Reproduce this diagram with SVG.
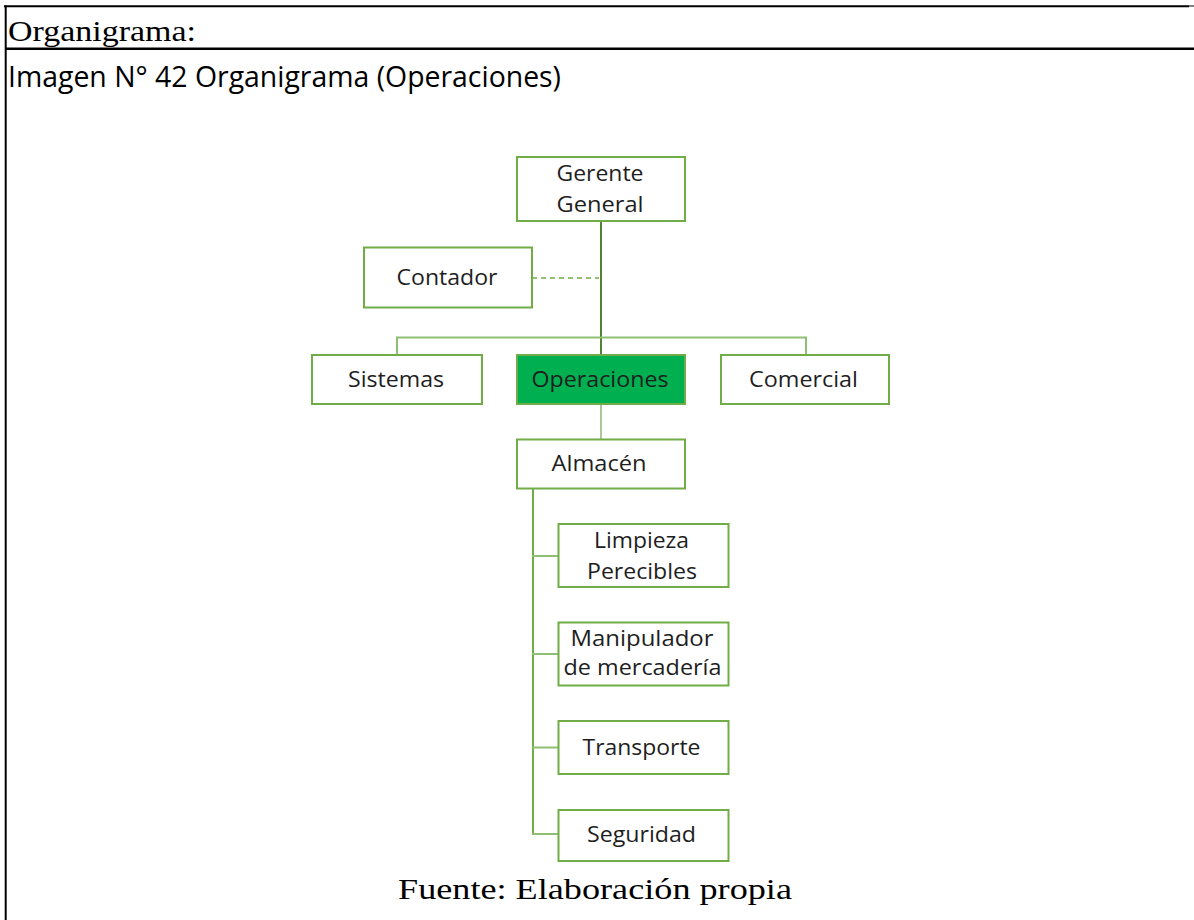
<svg xmlns="http://www.w3.org/2000/svg" width="1194" height="920" viewBox="0 0 1194 920">
<style>
.box{fill:#ffffff;stroke:#70ad47;stroke-width:2}
.hl{fill:#00b050;stroke:#70ad47;stroke-width:2}
.lbl{font-family:"Open Sans","Liberation Sans",sans-serif;font-size:21.5px;fill:#1e1e1e;text-anchor:middle}
.serif{font-family:"Liberation Serif","Times New Roman",serif;font-size:30px;fill:#000}
.frame{stroke:#000;fill:none}
</style>
<rect width="1194" height="920" fill="#ffffff"/>
<g id="frame">
<line class="frame" x1="4" y1="6.3" x2="1189" y2="6.3" stroke-width="2"/>
<line class="frame" x1="1189" y1="6" x2="1194" y2="6" stroke-width="1"/>
<line class="frame" x1="5" y1="48.8" x2="1194" y2="48.8" stroke-width="2.4"/>
<line class="frame" x1="5.7" y1="5.5" x2="5.7" y2="920" stroke-width="2"/>
<text class="serif" x="8" y="41" textLength="188" lengthAdjust="spacingAndGlyphs">Organigrama:</text>
<text x="8" y="87" font-family="'Open Sans','Liberation Sans',sans-serif" font-size="29" fill="#000" textLength="553" lengthAdjust="spacingAndGlyphs">Imagen N° 42 Organigrama (Operaciones)</text>
<text class="serif" x="398" y="899" textLength="394" lengthAdjust="spacingAndGlyphs">Fuente: Elaboración propia</text>
</g>
<g id="connectors" fill="none">
<line x1="601" y1="221" x2="601" y2="355" stroke="#548235" stroke-width="2"/>
<polyline points="397,355 397,337.5 806,337.5 806,355" stroke="#8fbf73" stroke-width="2"/>
<line x1="532" y1="278" x2="599" y2="278" stroke="#70ad47" stroke-width="1.5" stroke-dasharray="5,4"/>
<line x1="601" y1="404" x2="601" y2="439" stroke="#a9c79a" stroke-width="2"/>
<line x1="533" y1="488" x2="533" y2="835" stroke="#70ad47" stroke-width="2"/>
<line x1="532" y1="556" x2="558" y2="556" stroke="#8fbf73" stroke-width="2"/>
<line x1="532" y1="654" x2="558" y2="654" stroke="#8fbf73" stroke-width="2"/>
<line x1="532" y1="747.5" x2="558" y2="747.5" stroke="#8fbf73" stroke-width="2"/>
<line x1="532" y1="834" x2="558" y2="834" stroke="#8fbf73" stroke-width="2"/>
</g>
<g id="gerente">
<rect class="box" x="517" y="157" width="168" height="64"/>
<text class="lbl" x="600" y="181" textLength="87" lengthAdjust="spacingAndGlyphs">Gerente</text>
<text class="lbl" x="600" y="212" textLength="87" lengthAdjust="spacingAndGlyphs">General</text>
</g>
<g id="contador">
<rect class="box" x="364" y="247.5" width="168" height="60"/>
<text class="lbl" x="447" y="285" textLength="101" lengthAdjust="spacingAndGlyphs">Contador</text>
</g>
<g id="sistemas">
<rect class="box" x="312" y="355" width="170" height="49"/>
<text class="lbl" x="396" y="387" textLength="96" lengthAdjust="spacingAndGlyphs">Sistemas</text>
</g>
<g id="operaciones">
<rect class="hl" x="517" y="355" width="168" height="49"/>
<text class="lbl" x="600" y="387" textLength="137" lengthAdjust="spacingAndGlyphs">Operaciones</text>
</g>
<g id="comercial">
<rect class="box" x="721" y="355" width="168" height="49"/>
<text class="lbl" x="803.5" y="387" textLength="109" lengthAdjust="spacingAndGlyphs">Comercial</text>
</g>
<g id="almacen">
<rect class="box" x="517" y="439.5" width="168" height="49"/>
<text class="lbl" x="599" y="471" textLength="95" lengthAdjust="spacingAndGlyphs">Almacén</text>
</g>
<g id="limpieza">
<rect class="box" x="558.5" y="524" width="170" height="63"/>
<text class="lbl" x="641.5" y="547.5" textLength="95" lengthAdjust="spacingAndGlyphs">Limpieza</text>
<text class="lbl" x="642" y="578.5" textLength="110" lengthAdjust="spacingAndGlyphs">Perecibles</text>
</g>
<g id="manipulador">
<rect class="box" x="558.5" y="622.5" width="170" height="63"/>
<text class="lbl" x="642" y="646" textLength="143" lengthAdjust="spacingAndGlyphs">Manipulador</text>
<text class="lbl" x="642.5" y="675" textLength="158" lengthAdjust="spacingAndGlyphs">de mercadería</text>
</g>
<g id="transporte">
<rect class="box" x="558.5" y="721" width="170" height="53"/>
<text class="lbl" x="641.5" y="755" textLength="118" lengthAdjust="spacingAndGlyphs">Transporte</text>
</g>
<g id="seguridad">
<rect class="box" x="558.5" y="810" width="170" height="51"/>
<text class="lbl" x="641.5" y="842" textLength="109" lengthAdjust="spacingAndGlyphs">Seguridad</text>
</g>
</svg>
